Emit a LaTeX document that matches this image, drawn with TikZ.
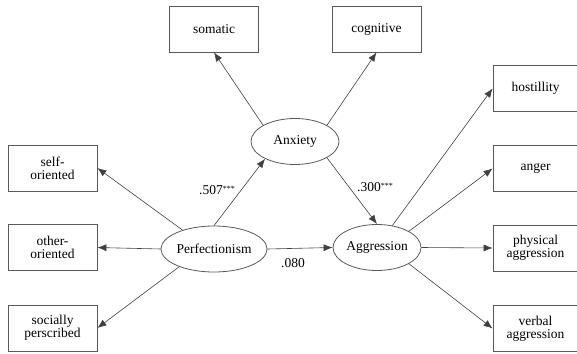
\documentclass[tikz,border=0pt]{standalone}
\usepackage{fontspec}
\setmainfont{Liberation Serif}
\newfontfamily\tnr{Liberation Serif}
\usetikzlibrary{shapes.geometric,arrows.meta}
\begin{document}
\begin{tikzpicture}[x=1pt,y=-1pt,
  every node/.style={font=\tnr\fontsize{13.5}{13}\selectfont},
  obs/.style={draw=black!65,line width=0.8pt,minimum width=89pt,minimum height=46pt,inner sep=0pt,align=center},
  lat/.style={draw=black!65,line width=0.8pt,ellipse,minimum width=88pt,minimum height=46pt,inner sep=0pt},
  con/.style={draw=black!75,line width=0.6pt,-{Latex[length=9pt,width=7pt]}},
  lbl/.style={inner sep=0pt}]
\useasboundingbox (0,0) rectangle (577,353);
\node[obs] (som) at (214,29) {somatic};
\node[obs] (cog) at (376.5,29) {cognitive};
\node[lat] (anx) at (295,141.5) {Anxiety};
\node[obs] (self) at (52.5,168) {self-\\oriented};
\node[obs] (other) at (52.5,247.5) {other-\\oriented};
\node[obs] (soc) at (52.5,328) {socially\\perscribed};
\node[lat] (perf) at (214,249) {Perfectionism};
\node[lat] (agg) at (377,247.5) {Aggression};
\node[obs,minimum width=85pt] (hos) at (535.5,88.5) {hostillity};
\node[obs,minimum width=85pt] (ang) at (535.5,168.5) {anger};
\node[obs,minimum width=85pt] (phy) at (535.5,248) {physical\\aggression};
\node[obs,minimum width=85pt] (ver) at (535.5,328.5) {verbal\\aggression};
\draw[con] (anx.153) -- (som.south);
\draw[con] (anx.27) -- (cog.south);
\draw[con] (perf.149) -- (self.east);
\draw[con] (perf.west) -- (other.east);
\draw[con] (perf.-153) -- (soc.east);
\draw[con] (perf.north) -- (anx.210);
\draw[con] (anx.-27) -- (agg.north);
\draw[con] (perf.east) -- (agg.west);
\draw[con] (agg.55) -- (hos.west);
\draw[con] (agg.27) -- (ang.west);
\draw[con] (agg.east) -- (phy.west);
\draw[con] (agg.-27) -- (ver.west);
\node[lbl] (l1) at (217,190) {.507\raisebox{3pt}{\fontsize{8}{8}\selectfont ***}};
\node[lbl] (l2) at (375,187) {.300\raisebox{3pt}{\fontsize{8}{8}\selectfont ***}};
\node[lbl] (l3) at (293,263) {.080};
\end{tikzpicture}
\end{document}
